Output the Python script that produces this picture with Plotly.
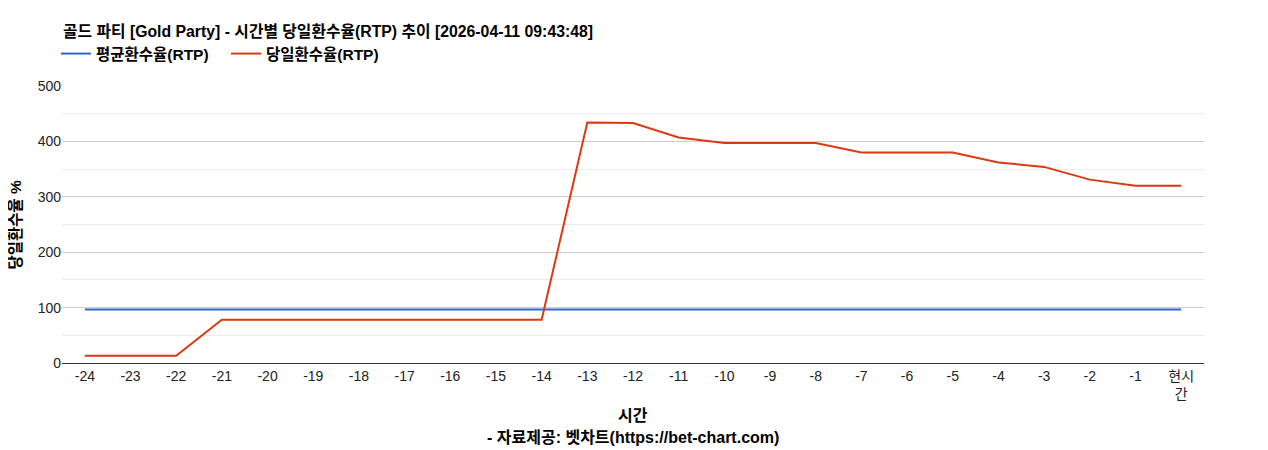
import plotly.graph_objects as go

# 시간 구간 (24시간 전 ~ 현시간)
hours = [str(h) for h in range(-24, 0)] + ["현시<br>간"]

# 평균환수율(RTP)
avg_rtp = [96.5] * 25

# 당일환수율(RTP)
day_rtp = [13, 13, 13, 78, 78, 78, 78, 78, 78, 78, 78,
           434, 433, 407, 397, 397, 397, 380, 380, 380,
           362, 354, 331, 320, 320]

KR_FONT = "Arial, 'Liberation Sans', 'Noto Sans CJK KR', sans-serif"

# 페이지 body 여백(8px)을 고려한 그림 크기와 플롯 영역 (픽셀)
W, H = 1260, 442
L, R, T, B = 54, 64, 78, 87
PW = W - L - R
PH = H - T - B


def px(pix):
    # 픽셀 x -> paper 좌표
    return (pix - L) / PW


def py(pix):
    # 픽셀 y -> paper 좌표
    return (H - B - pix) / PH


fig = go.Figure()

fig.add_trace(go.Scatter(
    x=hours, y=avg_rtp,
    mode='lines',
    name='<b>평균환수율(RTP)</b>',
    line=dict(color='#3366cc', width=2),
))
fig.add_trace(go.Scatter(
    x=hours, y=day_rtp,
    mode='lines',
    name='<b>당일환수율(RTP)</b>',
    line=dict(color='#dc3912', width=2),
))

fig.update_layout(
    width=W, height=H,
    plot_bgcolor='white',
    paper_bgcolor='white',
    font=dict(family=KR_FONT, size=14, color='#222222'),
    margin=dict(l=L, r=R, t=T, b=B, autoexpand=False),
    title=dict(
        text='<b>골드 파티 [Gold Party] - 시간별 당일환수율(RTP) 추이 [2026-04-11 09:43:48]</b>',
        x=55 / W, xanchor='left',
        y=1 - 23 / H, yanchor='middle',
        font=dict(size=15.8, color='#000000'),
    ),
    showlegend=True,
    legend=dict(
        orientation='h',
        x=48 / W, xref='container', xanchor='left',
        y=1 - 46 / H, yref='container', yanchor='middle',
        font=dict(size=15.5, color='#000000'),
        itemwidth=30,
        entrywidth=125,
        tracegroupgap=0,
    ),
    xaxis=dict(
        type='category',
        showgrid=False,
        showline=True,
        linecolor='#333333',
        linewidth=1,
        ticks='',
        tickangle=0,
        tickfont=dict(size=14, color='#222222'),
        range=[-0.5, 24.5],
        automargin=False,
        fixedrange=True,
    ),
    yaxis=dict(
        range=[0, 500],
        dtick=100,
        showgrid=True,
        gridcolor='#cccccc',
        gridwidth=1,
        zeroline=False,
        showline=False,
        ticks='',
        tickfont=dict(size=14, color='#222222'),
        minor=dict(dtick=50, showgrid=True, gridcolor='#ebebeb', gridwidth=1),
        automargin=False,
        fixedrange=True,
    ),
    annotations=[
        dict(text='<b>당일환수율 %</b>', textangle=-90,
             x=px(7), xref='paper', xanchor='center',
             y=0.5, yref='paper', yanchor='middle', showarrow=False,
             font=dict(size=15.5, color='#000000')),
        dict(text='<b>시간</b>', x=0.5, xref='paper', y=py(407), yref='paper',
             yanchor='middle', showarrow=False, font=dict(size=16, color='#000000')),
        dict(text='<b>- 자료제공: 벳차트(https://bet-chart.com)</b>', x=0.5, xref='paper',
             y=py(429), yref='paper', yanchor='middle', showarrow=False,
             font=dict(size=16, color='#000000')),
    ],
)

fig.write_html("out.html")
